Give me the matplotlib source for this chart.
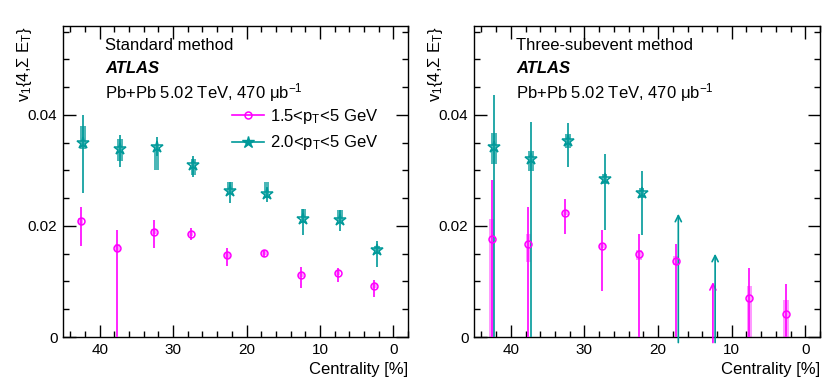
import numpy as np
import matplotlib
matplotlib.use("Agg")
import matplotlib.pyplot as plt
from matplotlib.lines import Line2D
from matplotlib.ticker import MultipleLocator

plt.rcParams['font.family'] = ['Liberation Sans', 'DejaVu Sans']
plt.rcParams['mathtext.fontset'] = 'custom'
plt.rcParams['mathtext.rm'] = 'Liberation Sans'
plt.rcParams['mathtext.it'] = 'Liberation Sans'
plt.rcParams['mathtext.default'] = 'regular'

# centrality bin centres [%]
cent = [42.5, 37.5, 32.5, 27.5, 22.5, 17.5, 12.5, 7.5, 2.5]

# ---- standard method ----
std_pink = [0.0209, 0.0160, 0.0190, 0.0186, 0.0147, 0.0151, 0.0112, 0.0115, 0.0092]
std_pink_stat_up = [0.0025, 0.0032, 0.0020, 0.0010, 0.0014, 0.0006, 0.0014, 0.0010, 0.0011]
std_pink_stat_dn = [0.0045, 0.0300, 0.0029, 0.0012, 0.0019, 0.0007, 0.0023, 0.0016, 0.0020]
std_pink_sys_up = [0.0006, 0.0007, 0.0005, 0.0004, 0.0004, 0.0004, 0.0004, 0.0004, 0.0004]
std_pink_sys_dn = [0.0006, 0.0007, 0.0005, 0.0004, 0.0004, 0.0004, 0.0004, 0.0004, 0.0004]

std_teal = [0.0350, 0.0338, 0.0342, 0.0309, 0.0263, 0.0257, 0.0212, 0.0211, 0.0156]
std_teal_stat_up = [0.0050, 0.0025, 0.0018, 0.0017, 0.0016, 0.0013, 0.0019, 0.0017, 0.0017]
std_teal_stat_dn = [0.0090, 0.0032, 0.0016, 0.0021, 0.0022, 0.0014, 0.0028, 0.0020, 0.0030]
std_teal_sys_up = [0.0030, 0.0018, 0.0003, 0.0011, 0.0016, 0.0022, 0.0019, 0.0017, 0.0008]
std_teal_sys_dn = [0.0012, 0.0021, 0.0041, 0.0018, 0.0006, 0.0006, 0.0007, 0.0006, 0.0006]

# ---- three-subevent method ----
sub_pink_cent = [42.5, 37.5, 32.5, 27.5, 22.5, 17.5, 7.5, 2.5]
sub_pink = [0.0176, 0.0167, 0.0224, 0.0164, 0.0150, 0.0137, 0.0070, 0.0041]
sub_pink_stat_up = [0.0106, 0.0067, 0.0025, 0.0028, 0.0036, 0.0030, 0.0055, 0.0054]
sub_pink_stat_dn = [0.0300, 0.0300, 0.0039, 0.0082, 0.0300, 0.0300, 0.0300, 0.0300]
sub_pink_sys_up = [0.0036, 0.0019, 0.0004, 0.0004, 0.0006, 0.0008, 0.0021, 0.0025]
sub_pink_sys_dn = [0.0300, 0.0032, 0.0004, 0.0004, 0.0011, 0.0007, 0.0300, 0.0300]
sub_pink_arrow_cent = [12.5]
sub_pink_arrow_top = [0.0099]

sub_teal_cent = [42.5, 37.5, 32.5, 27.5, 22.5]
sub_teal = [0.0342, 0.0320, 0.0353, 0.0285, 0.0260]
sub_teal_stat_up = [0.0094, 0.0067, 0.0032, 0.0045, 0.0039]
sub_teal_stat_dn = [0.0400, 0.0400, 0.0047, 0.0093, 0.0077]
sub_teal_sys_up = [0.0025, 0.0015, 0.0013, 0.0009, 0.0008]
sub_teal_sys_dn = [0.0030, 0.0021, 0.0012, 0.0010, 0.0009]
sub_teal_arrow_cent = [17.5, 12.5]
sub_teal_arrow_top = [0.0222, 0.0150]

labels = ['1.5<p$_{T}$<5 GeV', '2.0<p$_{T}$<5 GeV']

PINK = '#ff00ff'
TEAL = '#009999'


def draw_series(ax, x, y, up, dn, sup, sdn, color, marker, ms, box_alpha, off):
    x = np.asarray(x) + off
    y = np.asarray(y)
    sup = np.asarray(sup)
    sdn = np.asarray(sdn)
    ax.bar(x, sup + sdn, bottom=y - sdn, width=0.75, color=color,
           alpha=box_alpha, linewidth=0, zorder=2)
    ax.errorbar(x, y, yerr=[dn, up], fmt='none', ecolor=color,
                elinewidth=1.2, capsize=0, zorder=3)
    ax.plot(x, y, linestyle='none', marker=marker, ms=ms, mfc='none',
            mec=color, mew=1.1, zorder=4)


def draw_arrows(ax, x, top, color, off):
    for xi, t in zip(x, top):
        ax.annotate('', xy=(xi + off, t), xytext=(xi + off, -0.001),
                    arrowprops=dict(arrowstyle='->', color=color, lw=1.2,
                                    shrinkA=0, shrinkB=0, mutation_scale=11),
                    zorder=3)


def style_axis(ax):
    ax.set_xlim(45, -2)
    ax.set_ylim(0, 0.056)
    ax.xaxis.set_major_locator(MultipleLocator(10))
    ax.xaxis.set_minor_locator(MultipleLocator(2))
    ax.yaxis.set_major_locator(MultipleLocator(0.02))
    ax.yaxis.set_minor_locator(MultipleLocator(0.005))
    ax.yaxis.set_major_formatter(lambda v, p: '0' if v == 0 else f'{v:.2f}')
    ax.tick_params(which='both', direction='in', top=True, right=True,
                   labelsize=11, width=1)
    ax.tick_params(which='major', length=9, pad=4)
    ax.tick_params(which='minor', length=4.5)
    for s in ax.spines.values():
        s.set_linewidth(1)
    ax.set_ylabel(r'v$_{1}${4,$\Sigma$ E$_{T}$}', fontsize=12, loc='top')
    ax.yaxis.set_label_coords(-0.085, 1.0)
    ax.set_xlabel('Centrality [%]', fontsize=12, loc='right')
    ax.xaxis.set_label_coords(1.0, -0.08)


fig = plt.figure(figsize=(8.3, 3.88), dpi=100)
ax1 = fig.add_axes([0.0759, 0.1314, 0.4157, 0.8015])
ax2 = fig.add_axes([0.5711, 0.1314, 0.4169, 0.8015])

draw_series(ax1, cent, std_pink, std_pink_stat_up, std_pink_stat_dn,
            std_pink_sys_up, std_pink_sys_dn, PINK, 'o', 5, 0.4, 0.1)
draw_series(ax1, cent, std_teal, std_teal_stat_up, std_teal_stat_dn,
            std_teal_sys_up, std_teal_sys_dn, TEAL, '*', 9, 0.7, -0.25)

draw_series(ax2, sub_pink_cent, sub_pink, sub_pink_stat_up, sub_pink_stat_dn,
            sub_pink_sys_up, sub_pink_sys_dn, PINK, 'o', 5, 0.4, 0.1)
draw_series(ax2, sub_teal_cent, sub_teal, sub_teal_stat_up, sub_teal_stat_dn,
            sub_teal_sys_up, sub_teal_sys_dn, TEAL, '*', 9, 0.7, -0.25)
draw_arrows(ax2, sub_pink_arrow_cent, sub_pink_arrow_top, PINK, 0.05)
draw_arrows(ax2, sub_teal_arrow_cent, sub_teal_arrow_top, TEAL, -0.25)

for ax, title in [(ax1, 'Standard method'), (ax2, 'Three-subevent method')]:
    style_axis(ax)
    ax.text(0.122, 0.936, title, transform=ax.transAxes, fontsize=12,
            va='center', ha='left')
    ax.text(0.122, 0.862, 'ATLAS', transform=ax.transAxes, fontsize=12,
            fontweight='bold', style='italic', va='center', ha='left')
    ax.text(0.122, 0.785, 'Pb+Pb 5.02 TeV, 470 \u03bcb$^{-1}$',
            transform=ax.transAxes, fontsize=12, va='center', ha='left')

handles = [
    Line2D([], [], color=PINK, marker='o', ms=5, mfc='none', mew=1.1, lw=1.2),
    Line2D([], [], color=TEAL, marker='*', ms=9, lw=1.2),
]
ax1.legend(handles, labels, loc='upper left', bbox_to_anchor=(0.49, 0.74),
           frameon=False, fontsize=12, handlelength=1.9, handletextpad=0.4,
           labelspacing=0.45, borderpad=0, borderaxespad=0)

fig.savefig('out.png', dpi=100)
